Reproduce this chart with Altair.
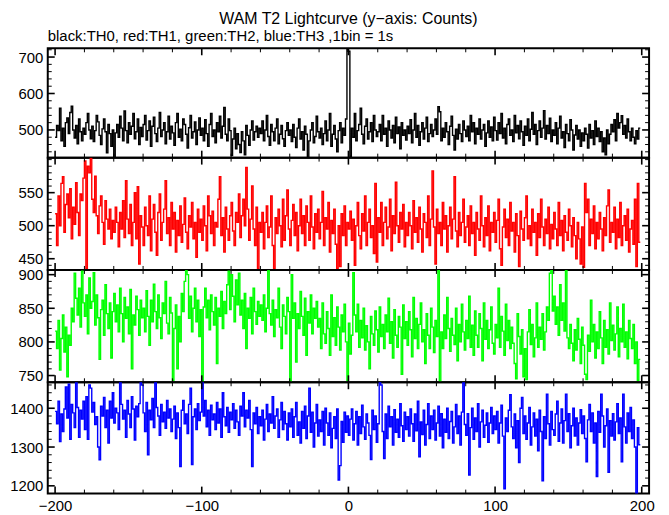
import altair as alt
import pandas as pd

TITLE = "WAM T2 Lightcurve (y\u2212axis: Counts)"
SUBTITLE = "black:TH0, red:TH1, green:TH2, blue:TH3 ,1bin = 1s"
T0 = -200  # first bin start (s); 1 bin = 1 s

th0 = [
    480, 512, 498, 560, 470, 505, 455, 520, 533, 490, 548, 565, 500, 478, 512, 462, 530, 495, 470, 505,
    488, 520, 545, 500, 476, 510, 468, 498, 540, 522, 485, 460, 503, 530, 495, 437, 515, 490, 455, 500,
    424, 492, 515, 480, 538, 505, 470, 552, 498, 465, 520, 488, 510, 545, 476, 495, 530, 460, 507, 482,
    515, 540, 472, 498, 525, 455, 510, 535, 490, 468, 505, 548, 482, 500, 520, 462, 495, 538, 475, 510,
    492, 458, 520, 545, 480, 502, 470, 530, 515, 488, 450, 506, 540, 478, 495, 522, 460, 500, 533, 485,
    505, 470, 528, 490, 455, 515, 545, 482, 500, 465, 520, 495, 538, 478, 510, 562, 488, 470, 530, 498,
    430, 475, 505, 448, 490, 460, 438, 495, 470, 432, 512, 485, 458, 500, 525, 472, 495, 510, 480, 505,
    490, 525, 470, 500, 540, 482, 458, 515, 495, 470, 505, 530, 462, 488, 512, 476, 455, 498, 520, 485,
    500, 468, 515, 480, 452, 505, 530, 475, 495, 445, 510, 488, 424, 470, 500, 520, 465, 482, 538, 495,
    478, 505, 460, 490, 525, 470, 500, 545, 455, 488, 512, 475, 440, 498, 520, 465, 505, 485, 530, 722,
    716, 428, 505, 480, 545, 470, 498, 515, 560, 488, 462, 510, 530, 475, 495, 520, 468, 540, 500, 482,
    495, 515, 470, 540, 488, 505, 455, 525, 500, 478, 512, 465, 535, 490, 508, 448, 520, 485, 500, 472,
    510, 490, 528, 465, 500, 545, 480, 512, 458, 495, 520, 475, 505, 535, 468, 490, 515, 482, 500, 530,
    488, 564, 550, 470, 505, 480, 520, 495, 460, 510, 538, 485, 445, 502, 475, 515, 490, 468, 525, 500,
    482, 510, 470, 540, 495, 520, 462, 505, 488, 530, 475, 500, 515, 455, 492, 525, 480, 508, 470, 535,
    498, 472, 520, 490, 545, 478, 505, 462, 515, 530, 485, 500, 468, 540, 492, 512, 476, 525, 495, 458,
    510, 485, 530, 470, 502, 548, 488, 515, 460, 498, 525, 480, 505, 553, 475, 512, 490, 532, 468, 500,
    485, 520, 462, 505, 538, 478, 495, 452, 515, 490, 470, 528, 500, 445, 486, 512, 475, 500, 455, 492,
    470, 505, 488, 450, 515, 478, 498, 460, 525, 482, 505, 468, 495, 440, 478, 432, 500, 462, 488, 515,
    495, 528, 470, 545, 505, 520, 539, 488, 512, 478, 530, 495, 470, 505, 480, 462, 498, 475, 505,
]

th1 = [
    518, 470, 545, 500, 564, 574, 490, 532, 548, 512, 556, 480, 528, 502, 565, 520, 485, 548, 538, 572,
    598, 435, 590, 580, 602, 540, 520, 575, 515, 488, 530, 545, 505, 472, 538, 510, 495, 525, 480, 508,
    490, 528, 505, 468, 520, 495, 538, 482, 568, 510, 488, 532, 470, 505, 550, 480, 559, 442, 515, 498,
    470, 528, 500, 485, 545, 462, 510, 532, 490, 455, 520, 548, 478, 505, 525, 568, 488, 512, 470, 535,
    495, 520, 460, 508, 485, 530, 475, 502, 542, 490, 465, 515, 498, 535, 480, 505, 452, 525, 490, 510,
    478, 530, 500, 462, 545, 515, 488, 522, 470, 505, 498, 540, 574, 485, 512, 460, 528, 495, 478, 515,
    535, 492, 470, 520, 505, 548, 482, 515, 540, 500, 588, 525, 478, 510, 560, 495, 470, 528, 435, 505,
    490, 520, 465, 505, 530, 482, 498, 545, 470, 435, 512, 488, 525, 500, 468, 540, 478, 515, 554, 495,
    470, 508, 532, 485, 520, 462, 500, 540, 488, 515, 470, 530, 505, 478, 545, 498, 465, 518, 490, 525,
    480, 505, 552, 470, 512, 495, 535, 460, 508, 488, 525, 472, 435, 500, 438, 518, 485, 530, 470, 505,
    495, 522, 478, 510, 440, 500, 535, 485, 465, 518, 492, 545, 470, 505, 525, 482, 500, 458, 564, 445,
    512, 490, 535, 470, 505, 528, 480, 498, 540, 462, 515, 488, 566, 500, 475, 520, 495, 532, 468, 505,
    485, 520, 500, 465, 538, 490, 512, 475, 528, 495, 460, 518, 505, 482, 545, 470, 510, 583, 498, 442,
    525, 488, 505, 470, 535, 495, 515, 460, 500, 528, 480, 510, 574, 492, 468, 520, 485, 505, 540, 475,
    498, 515, 470, 530, 488, 505, 455, 520, 495, 478, 545, 500, 468, 512, 485, 530, 462, 505, 490, 520,
    475, 508, 540, 465, 440, 498, 525, 482, 510, 470, 535, 492, 505, 460, 518, 485, 438, 522, 495, 478,
    512, 545, 480, 500, 470, 525, 490, 505, 455, 518, 482, 540, 498, 470, 510, 488, 528, 465, 502, 480,
    520, 495, 470, 535, 485, 508, 462, 515, 490, 478, 525, 500, 468, 512, 485, 450, 505, 480, 442, 498,
    437, 564, 520, 540, 470, 510, 488, 530, 465, 505, 480, 520, 495, 462, 512, 485, 530, 554, 475, 505,
    490, 528, 465, 510, 482, 535, 470, 500, 515, 478, 525, 460, 495, 508, 472, 540, 438, 564, 475,
]

th2 = [
    816, 790, 832, 758, 805, 840, 785, 822, 748, 810, 795, 850, 830, 902, 865, 840, 880, 822, 905, 858,
    838, 870, 812, 895, 850, 860, 903, 825, 870, 836, 774, 848, 862, 810, 885, 842, 820, 858, 776, 845,
    872, 830, 855, 815, 880, 842, 800, 866, 835, 852, 812, 878, 760, 840, 825, 868, 848, 810, 862, 836,
    850, 815, 876, 838, 795, 862, 830, 886, 845, 820, 870, 836, 805, 858, 842, 890, 828, 812, 866, 843,
    743, 820, 855, 760, 838, 800, 872, 845, 890, 906, 900, 835, 868, 815, 850, 880, 830, 862, 808, 848,
    741, 852, 880, 836, 862, 818, 870, 845, 825, 866, 768, 850, 838, 875, 820, 860, 842, 885, 905, 848,
    900, 868, 830, 892, 855, 902, 840, 862, 820, 872, 790, 850, 835, 866, 812, 880, 845, 826, 860, 838,
    855, 832, 870, 815, 850, 906, 842, 825, 862, 808, 848, 836, 880, 822, 790, 855, 838, 812, 866, 845,
    741, 900, 835, 858, 770, 842, 820, 875, 838, 810, 865, 780, 845, 828, 870, 812, 850, 835, 860, 822,
    835, 790, 858, 812, 798, 845, 820, 780, 870, 808, 836, 795, 852, 822, 788, 840, 815, 856, 800, 743,
    828, 782, 810, 903, 840, 815, 856, 792, 832, 806, 850, 788, 824, 800, 760, 838, 812, 795, 846, 818,
    785, 852, 808, 826, 790, 840, 815, 865, 798, 830, 776, 848, 810, 792, 838, 822, 752, 855, 805, 830,
    795, 845, 818, 778, 866, 805, 835, 790, 826, 858, 800, 818, 768, 842, 810, 790, 850, 822, 784, 832,
    808, 906, 741, 815, 790, 840, 805, 866, 820, 786, 835, 810, 796, 850, 772, 826, 800, 856, 815, 788,
    832, 805, 868, 792, 825, 780, 846, 810, 792, 842, 820, 772, 858, 804, 832, 790, 818, 852, 798, 782,
    826, 806, 880, 792, 838, 816, 780, 856, 802, 832, 790, 822, 798, 768, 745, 842, 808, 782, 818, 748,
    790, 744, 815, 848, 796, 826, 778, 806, 858, 792, 822, 804, 842, 788, 815, 852, 832, 902, 906, 846,
    868, 826, 852, 810, 885, 832, 858, 816, 906, 806, 790, 826, 798, 772, 818, 788, 835, 804, 768, 822,
    795, 752, 744, 810, 786, 862, 800, 826, 776, 815, 790, 845, 806, 768, 832, 792, 818, 782, 858, 802,
    825, 788, 812, 852, 778, 820, 800, 856, 792, 815, 775, 832, 805, 790, 826, 768, 800, 743, 774,
]

th3 = [
    1392, 1360, 1418, 1314, 1385, 1340, 1398, 1455, 1375, 1462, 1320, 1410, 1388, 1350, 1466, 1402, 1325, 1395, 1372, 1418,
    1345, 1430, 1320, 1460, 1452, 1390, 1415, 1358, 1378, 1300, 1267, 1405, 1380, 1428, 1350, 1395, 1310, 1418, 1375, 1440,
    1362, 1400, 1388, 1345, 1466, 1410, 1372, 1395, 1325, 1420, 1385, 1350, 1430, 1398, 1318, 1405, 1378, 1412, 1466, 1460,
    1388, 1340, 1415, 1280, 1395, 1370, 1425, 1350, 1466, 1402, 1380, 1330, 1410, 1365, 1390, 1348, 1420, 1375, 1398, 1340,
    1372, 1405, 1322, 1388, 1350, 1250, 1395, 1420, 1360, 1385, 1335, 1410, 1452, 1255, 1378, 1398, 1345, 1412, 1368, 1390,
    1466, 1380, 1420, 1352, 1395, 1330, 1408, 1370, 1385, 1345, 1415, 1362, 1398, 1325, 1440, 1378, 1355, 1402, 1338, 1390,
    1370, 1412, 1348, 1395, 1365, 1330, 1405, 1380, 1440, 1352, 1395, 1375, 1420, 1345, 1250, 1388, 1360, 1402, 1335, 1378,
    1355, 1395, 1318, 1372, 1410, 1340, 1385, 1362, 1430, 1348, 1380, 1398, 1325, 1370, 1415, 1345, 1392, 1360, 1318, 1388,
    1352, 1398, 1325, 1378, 1415, 1330, 1365, 1310, 1392, 1348, 1405, 1322, 1380, 1452, 1338, 1390, 1300, 1362, 1410, 1328,
    1370, 1340, 1392, 1305, 1400, 1362, 1330, 1388, 1298, 1348, 1378, 1322, 1398, 1215, 1252, 1366, 1312, 1390, 1338, 1380,
    1330, 1372, 1398, 1318, 1360, 1392, 1305, 1378, 1335, 1408, 1352, 1320, 1385, 1362, 1330, 1268, 1395, 1345, 1380, 1312,
    1360, 1466, 1460, 1340, 1270, 1385, 1322, 1405, 1352, 1378, 1305, 1396, 1338, 1372, 1325, 1412, 1355, 1315, 1390, 1345,
    1378, 1328, 1398, 1360, 1315, 1385, 1342, 1418, 1275, 1365, 1332, 1395, 1305, 1358, 1412, 1322, 1380, 1345, 1395, 1318,
    1362, 1405, 1328, 1386, 1298, 1372, 1338, 1400, 1322, 1366, 1392, 1310, 1352, 1410, 1335, 1380, 1305, 1390, 1466, 1358,
    1330, 1386, 1228, 1350, 1400, 1320, 1375, 1340, 1412, 1300, 1365, 1395, 1325, 1356, 1388, 1312, 1362, 1402, 1335, 1380,
    1345, 1392, 1310, 1362, 1408, 1328, 1192, 1375, 1340, 1395, 1435, 1352, 1322, 1385, 1298, 1368, 1260, 1400, 1428, 1335,
    1380, 1320, 1362, 1402, 1305, 1352, 1388, 1328, 1372, 1290, 1395, 1340, 1213, 1378, 1322, 1436, 1360, 1305, 1392, 1345,
    1330, 1385, 1418, 1315, 1362, 1398, 1310, 1368, 1436, 1340, 1386, 1298, 1355, 1400, 1328, 1375, 1305, 1362, 1396, 1335,
    1380, 1322, 1262, 1370, 1410, 1340, 1388, 1310, 1362, 1224, 1392, 1338, 1436, 1380, 1300, 1355, 1398, 1235, 1368, 1328,
    1386, 1318, 1365, 1412, 1335, 1375, 1262, 1436, 1352, 1310, 1388, 1340, 1402, 1322, 1370, 1300, 1181, 1350, 1306,
]

X_DOMAIN = [-205, 205]
X_LABELS = [-200, -100, 0, 100, 200]
X_MINOR = [v for v in range(-200, 201, 20) if v % 100 != 0]

FONT = "Liberation Sans"
W = 605


def step_frame(vals):
    xs = list(range(T0, T0 + len(vals))) + [T0 + len(vals)]
    ys = list(vals) + [vals[-1]]
    return pd.DataFrame({"t": xs, "c": ys})


def panel(vals, color, ydom, ymajor, ystep, H, show_x, texts=False):
    xscale = alt.Scale(domain=X_DOMAIN, nice=False, zero=False)
    yscale = alt.Scale(domain=ydom, nice=False, zero=False)
    xaxis = alt.Axis(values=X_LABELS, format="d", title=None, labelPadding=5) if show_x else None
    yaxis = alt.Axis(values=ymajor, format="d", title=None, labelPadding=5)

    def X():
        return alt.X("t:Q", scale=xscale, axis=xaxis)

    def Y():
        return alt.Y("c:Q", scale=yscale, axis=yaxis)

    lo = ((ydom[0] // ystep) + 1) * ystep
    yminor = [v for v in range(int(lo), int(ydom[1]) + 1, ystep) if v not in ymajor]

    layers = [
        alt.Chart(step_frame(vals)).mark_line(
            interpolate="step-after", color=color, strokeWidth=1.4, clip=True
        ).encode(x=X(), y=Y())
    ]
    xmaj = pd.DataFrame({"t": X_LABELS})
    xmin = pd.DataFrame({"t": X_MINOR})
    ymaj = pd.DataFrame({"c": ymajor})
    ymin = pd.DataFrame({"c": yminor})
    for df, L, sw in [(xmaj, 7, 1.6), (xmin, 4, 1)]:
        layers.append(alt.Chart(df).mark_rule(color="black", strokeWidth=sw).encode(
            x=X(), y=alt.value(0), y2=alt.value(L)))
        layers.append(alt.Chart(df).mark_rule(color="black", strokeWidth=sw).encode(
            x=X(), y=alt.value(H), y2=alt.value(H - L)))
    for df, L, sw in [(ymaj, 7, 1.6), (ymin, 4, 1)]:
        layers.append(alt.Chart(df).mark_rule(color="black", strokeWidth=sw).encode(
            y=Y(), x=alt.value(0), x2=alt.value(L)))
        layers.append(alt.Chart(df).mark_rule(color="black", strokeWidth=sw).encode(
            y=Y(), x=alt.value(W), x2=alt.value(W - L)))
    if texts:
        layers.append(alt.Chart(pd.DataFrame({"s": [TITLE]})).mark_text(
            align="center", baseline="alphabetic", font=FONT, fontSize=16, color="black"
        ).encode(x=alt.value(W / 2), y=alt.value(-24), text="s:N"))
        layers.append(alt.Chart(pd.DataFrame({"s": [SUBTITLE]})).mark_text(
            align="left", baseline="alphabetic", font=FONT, fontSize=15, color="black"
        ).encode(x=alt.value(0), y=alt.value(-7), text="s:N"))
    return alt.layer(*layers).properties(width=W, height=H)


p1 = panel(th0, "#000000", [424, 724], [500, 600, 700], 20, 110, False, texts=True)
p2 = panel(th1, "#ff0000", [433, 603], [450, 500, 550], 10, 113, False)
p3 = panel(th2, "#00ff00", [740, 907], [750, 800, 850, 900], 10, 113, False)
p4 = panel(th3, "#0000ff", [1180, 1467], [1200, 1300, 1400], 20, 112, True)

chart = alt.vconcat(p1, p2, p3, p4, spacing=0, bounds="flush").properties(
    padding={"left": 0, "top": 1, "right": 5, "bottom": 0}
).configure_view(
    stroke="black", strokeWidth=2
).configure_axis(
    labelFont=FONT, labelFontSize=15, labelColor="black",
    ticks=False, domain=False, grid=False
)

chart.save("out.html", embed_options={"renderer": "svg", "actions": False})
